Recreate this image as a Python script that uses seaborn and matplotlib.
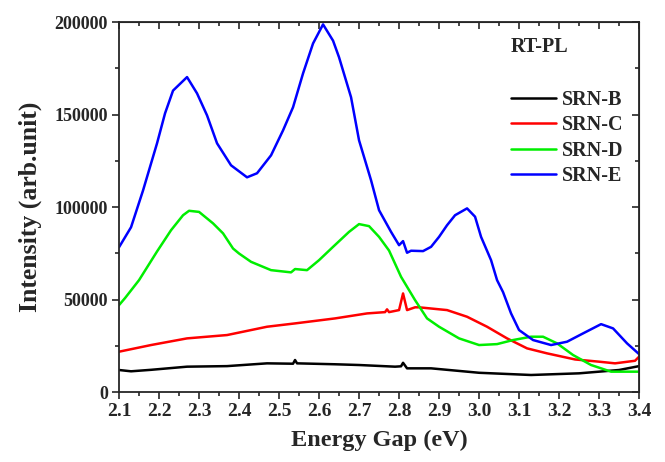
import numpy as np
import pandas as pd
import matplotlib
matplotlib.use("Agg")
import matplotlib.pyplot as plt
from matplotlib.ticker import MultipleLocator
import seaborn as sns

sns.set_style("ticks")
plt.rcParams['font.family'] = ['Liberation Serif', 'DejaVu Serif']
plt.rcParams['font.weight'] = 'bold'

# Data (energy in eV, intensity in arb. units)
e_b = [2.10, 2.13, 2.18, 2.27, 2.37, 2.47, 2.535, 2.54, 2.545, 2.64, 2.70, 2.79,
       2.805, 2.81, 2.82, 2.88, 3.00, 3.13, 3.25, 3.35, 3.40]
i_b = [11900, 11200, 12000, 13700, 14000, 15500, 15300, 17300, 15500, 15000, 14600, 13700,
       13900, 15800, 12800, 12800, 10400, 9200, 10100, 11900, 14000]

e_c = [2.10, 2.18, 2.27, 2.37, 2.47, 2.54, 2.64, 2.72, 2.765, 2.77, 2.775, 2.80,
       2.81, 2.82, 2.84, 2.85, 2.92, 2.97, 3.02, 3.07, 3.12, 3.17, 3.24, 3.30,
       3.34, 3.39, 3.40]
i_c = [21800, 25400, 29000, 30800, 35300, 37100, 39800, 42500, 43200, 44700, 43200, 44300,
       53300, 44300, 45800, 45800, 44300, 40700, 35300, 29000, 23600, 20900, 17600, 16400,
       15500, 16900, 19100]

e_d = [2.10, 2.115, 2.15, 2.195, 2.23, 2.26, 2.275, 2.30, 2.335, 2.36, 2.385, 2.40,
       2.43, 2.48, 2.53, 2.54, 2.57, 2.60, 2.635, 2.675, 2.70, 2.725, 2.75, 2.775,
       2.805, 2.84, 2.87, 2.90, 2.95, 3.00, 3.045, 3.085, 3.13, 3.16, 3.195, 3.235,
       3.28, 3.33, 3.40]
i_d = [47000, 50800, 60500, 76000, 87500, 95600, 98000, 97400, 91200, 85800, 77600, 74900,
       70400, 65900, 64700, 66500, 65900, 71300, 78500, 86600, 90800, 89700, 83900, 76500,
       62300, 49700, 39800, 35300, 29000, 25400, 25900, 28100, 29900, 29900, 26300, 20000,
       14600, 11000, 11000]

e_e = [2.10, 2.13, 2.16, 2.195, 2.215, 2.235, 2.27, 2.295, 2.32, 2.345, 2.38, 2.42,
       2.445, 2.48, 2.51, 2.535, 2.56, 2.585, 2.61, 2.635, 2.65, 2.68, 2.70, 2.73,
       2.75, 2.78, 2.80, 2.81, 2.82, 2.83, 2.86, 2.88, 2.90, 2.92, 2.94, 2.97,
       2.99, 3.005, 3.03, 3.045, 3.06, 3.08, 3.10, 3.135, 3.18, 3.22, 3.26, 3.305,
       3.335, 3.37, 3.40]
i_e = [78300, 89100, 109000, 134500, 150700, 163000, 170300, 161500, 149600, 134500, 122600, 116100,
       118300, 128000, 141500, 154000, 172300, 188500, 198800, 190000, 181000, 159400, 136100, 114500,
       98300, 86600, 79400, 81600, 75300, 76400, 76200, 78500, 83900, 90200, 95600, 99300,
       94800, 83900, 71300, 60500, 54000, 42500, 33500, 28100, 25400, 27200, 31700, 36700,
       34400, 26300, 20500]

samples = ['SRN-B', 'SRN-C', 'SRN-D', 'SRN-E']
colors = ['#000000', '#ff0000', '#00ee00', '#0000ff']

df = pd.concat([
    pd.DataFrame({'energy': e, 'intensity': i, 'sample': s})
    for e, i, s in zip([e_b, e_c, e_d, e_e], [i_b, i_c, i_d, i_e], samples)
])

fig = plt.figure(figsize=(6.65, 4.62), dpi=100)
ax = fig.add_axes([0.179, 0.1515, 0.782, 0.8005])

sns.lineplot(data=df, x='energy', y='intensity', hue='sample', hue_order=samples,
             palette=colors, linewidth=1.8, sort=True, estimator=None, ax=ax)

ax.set_xlim(2.1, 3.4)
ax.set_ylim(0, 200000)
ax.xaxis.set_major_locator(MultipleLocator(0.1))
ax.xaxis.set_minor_locator(MultipleLocator(0.05))
ax.yaxis.set_major_locator(MultipleLocator(50000))
ax.yaxis.set_minor_locator(MultipleLocator(25000))
# origin-style ticks: out on left/bottom, in on top/right
ax.tick_params(which='both', direction='out', width=1.2)
ax.tick_params(which='major', length=5)
ax.tick_params(which='minor', length=3)
ax.tick_params(axis='x', labelsize=14, pad=3)
ax.tick_params(axis='y', labelsize=13, pad=3)
top = ax.secondary_xaxis('top')
top.xaxis.set_major_locator(MultipleLocator(0.1))
top.xaxis.set_minor_locator(MultipleLocator(0.05))
top.tick_params(which='both', direction='in', labeltop=False, width=1.2)
top.tick_params(which='major', length=5)
top.tick_params(which='minor', length=3)
right = ax.secondary_yaxis('right')
right.yaxis.set_major_locator(MultipleLocator(50000))
right.yaxis.set_minor_locator(MultipleLocator(25000))
right.tick_params(which='both', direction='in', labelright=False, width=1.2)
right.tick_params(which='major', length=5)
right.tick_params(which='minor', length=3)

ax.set_xticklabels([f"{v:.1f}" for v in ax.get_xticks()], fontweight='bold')
for lab in ax.get_yticklabels():
    lab.set_fontweight('bold')
for sp in ax.spines.values():
    sp.set_linewidth(1.3)
    sp.set_visible(True)

ax.set_xlabel('Energy Gap (eV)', fontsize=17.5, fontweight='bold', labelpad=7)
ax.set_ylabel('Intensity (arb.unit)', fontsize=18.5, fontweight='bold', labelpad=9)

ax.text(0.754, 0.919, 'RT-PL', transform=ax.transAxes, fontsize=14.5, fontweight='bold')
leg = ax.legend(frameon=False, loc='upper left', bbox_to_anchor=(0.754, 0.817),
                prop={'weight': 'bold', 'size': 14.5}, handlelength=2.25,
                handletextpad=0.25, labelspacing=0.27, borderpad=0, borderaxespad=0)
for h in leg.get_lines():
    h.set_linewidth(1.8)

fig.savefig('out.png', dpi=100)
